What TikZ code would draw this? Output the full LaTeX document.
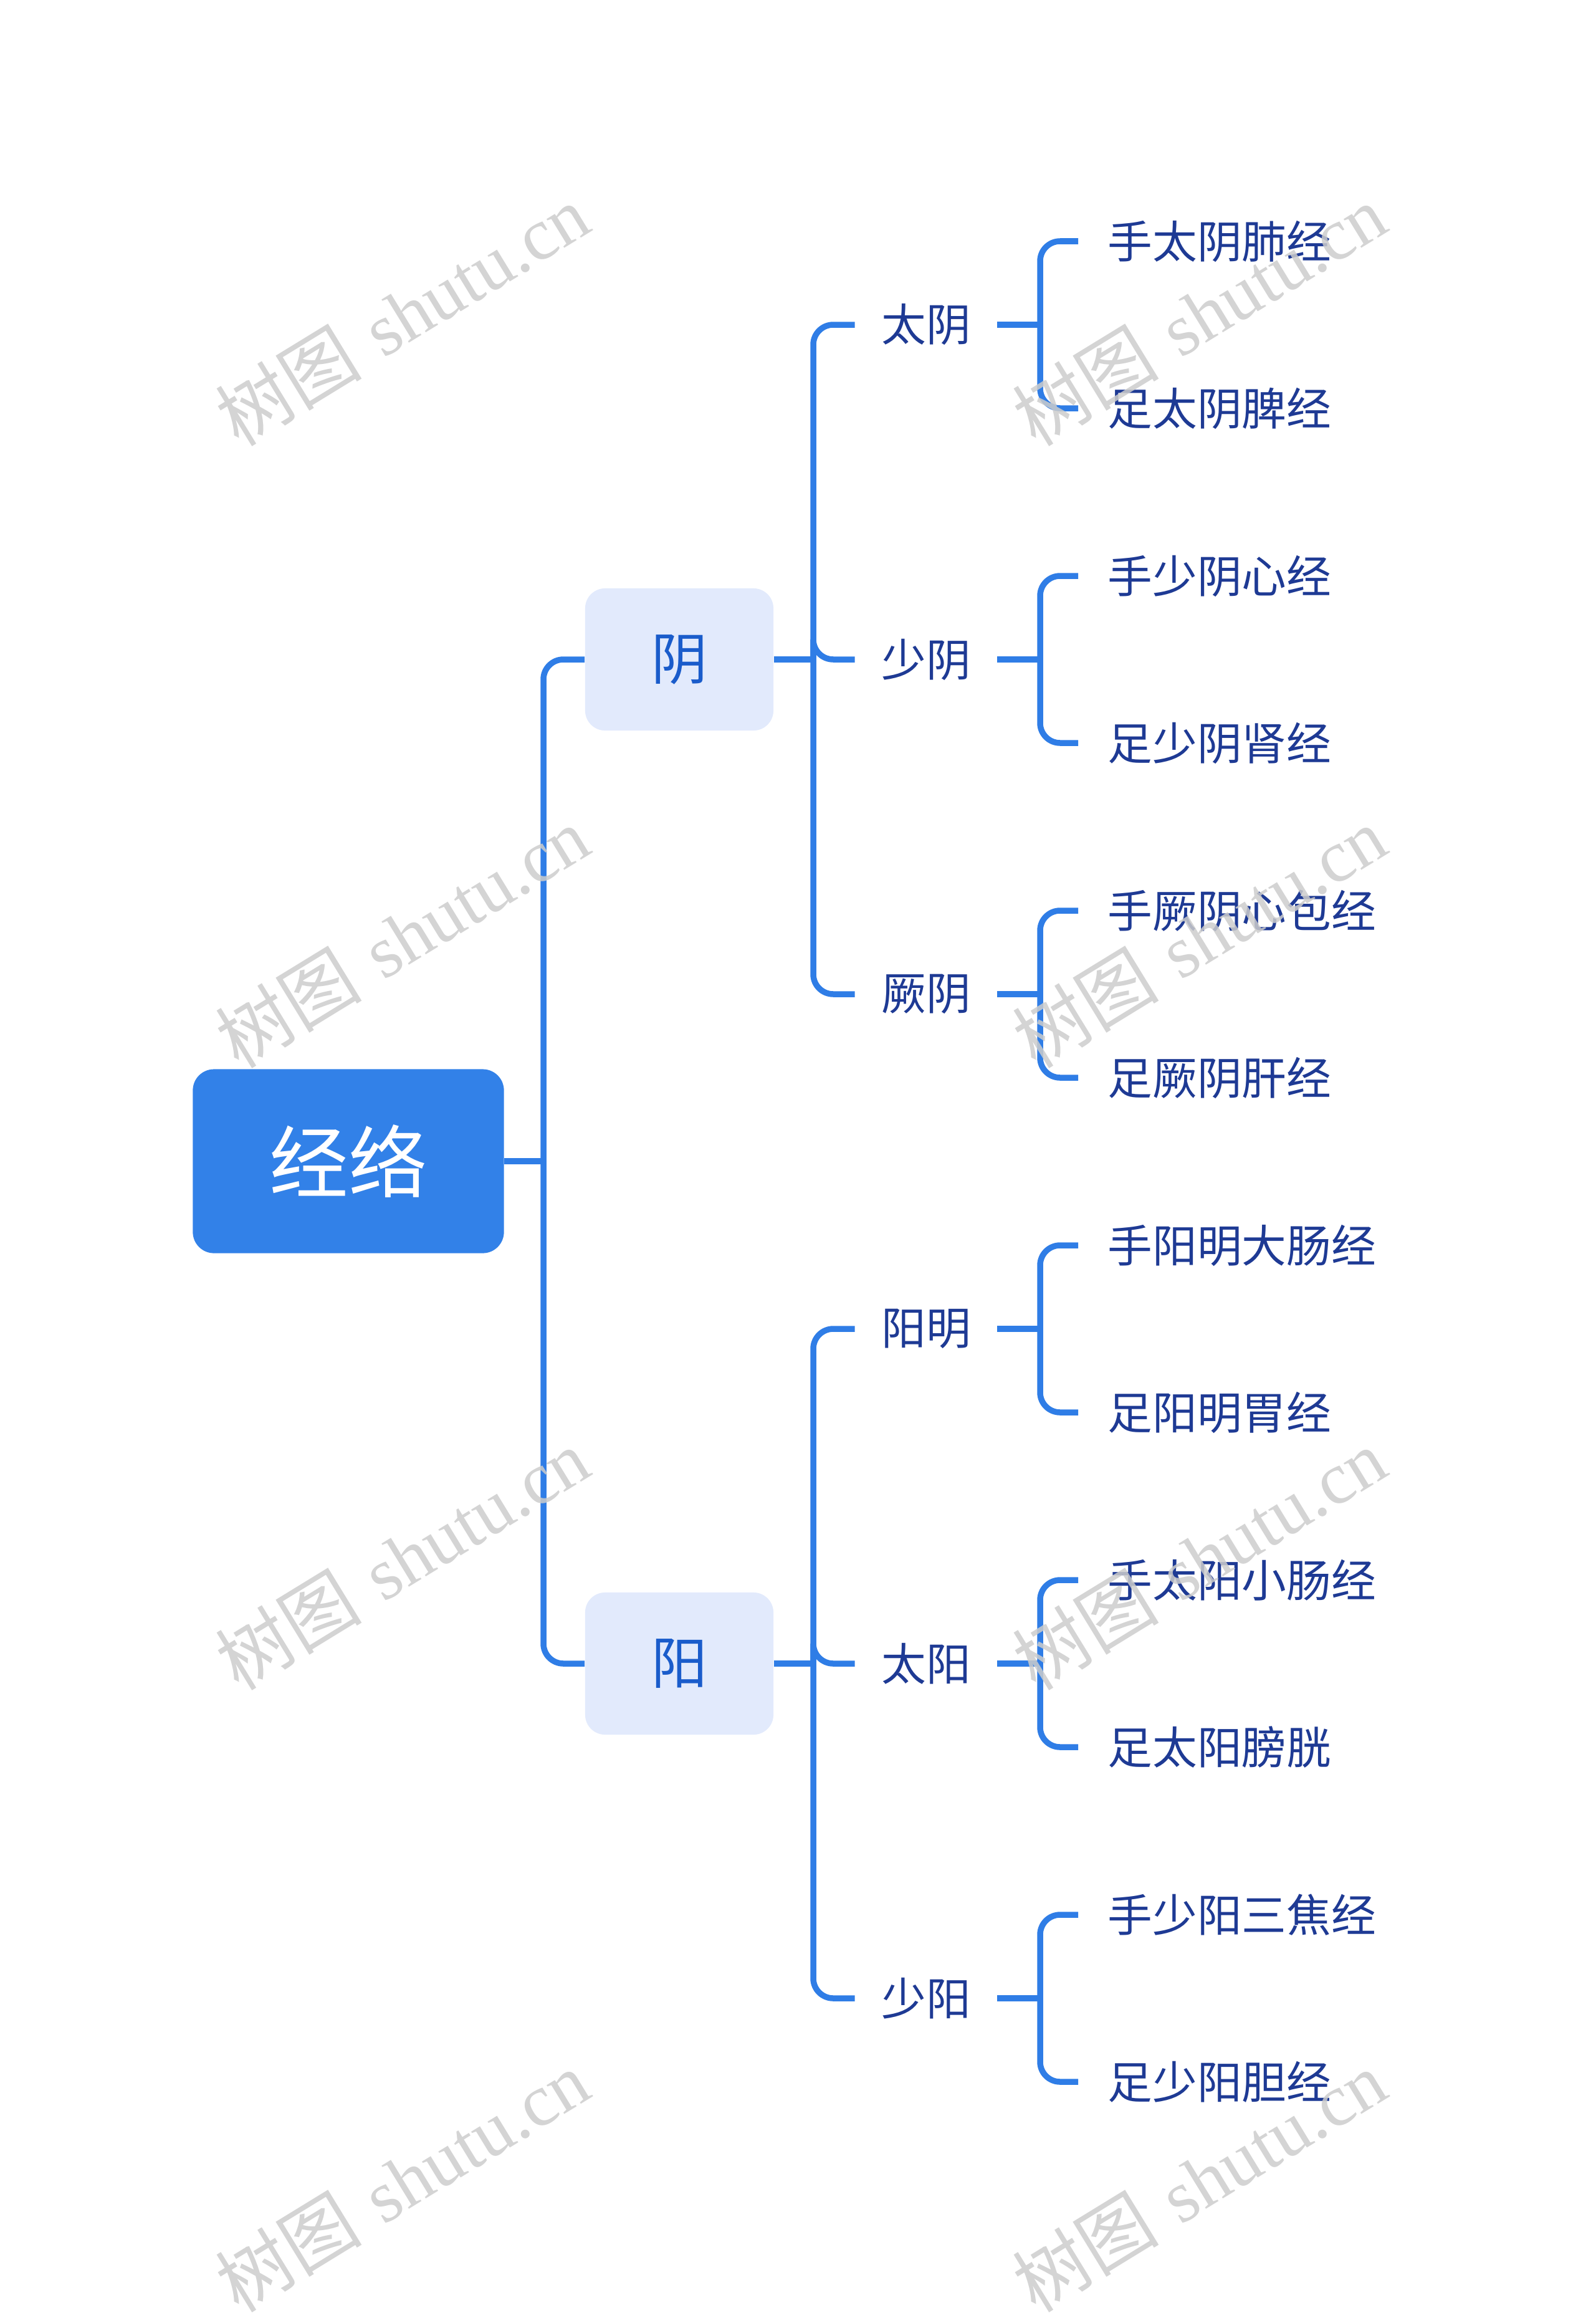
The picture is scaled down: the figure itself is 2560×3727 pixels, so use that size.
\documentclass[tikz,border=0pt]{standalone}
\usepackage{fontspec}
\newfontfamily\cjk{Noto Sans CJK SC}
\newfontfamily\wmlatin{Liberation Serif}
\definecolor{lineblue}{HTML}{2F7DE6}
\definecolor{rootblue}{HTML}{3281E8}
\definecolor{lightbox}{HTML}{E2EAFC}
\definecolor{yintext}{HTML}{1A5CCB}
\definecolor{navy}{HTML}{1E3A94}
\definecolor{wmgray}{HTML}{CCCCCC}
\begin{document}
\begin{tikzpicture}[x=0.01cm,y=-0.01cm,
  conn/.style={draw=lineblue, line width=0.095cm, rounded corners=0.32cm},
  rootbox/.style={fill=rootblue, rounded corners=0.34cm, minimum width=4.99cm, minimum height=2.95cm, inner sep=0, text=white, font=\cjk\fontsize{36}{36}\selectfont},
  lvone/.style={fill=lightbox, rounded corners=0.32cm, minimum width=3.02cm, minimum height=2.28cm, inner sep=0, text=yintext, font=\cjk\fontsize{25.6}{26}\selectfont},
  lvtwo/.style={text=navy, font=\cjk\fontsize{20.4}{21}\selectfont, inner xsep=0.42cm, inner ysep=0},
  leaf/.style={anchor=west, text=navy, font=\cjk\fontsize{20.4}{21}\selectfont, inner xsep=0.47cm, inner ysep=0},
  wm/.style={text=wmgray, opacity=0.85, rotate=31.5, inner sep=0, font=\fontsize{33.6}{34}\selectfont}
]
\useasboundingbox (0,0) rectangle (2560,3727);

% nodes
\node[rootbox] (root) at (559,1863) {经络};
\node[lvone] (yin) at (1090,1058) {阴};
\node[lvone] (yang) at (1090,2669) {阳};

\node[lvtwo] (taiyin) at (1486,521) {太阴};
\node[lvtwo] (shaoyin) at (1486,1058) {少阴};
\node[lvtwo] (jueyin) at (1486,1595) {厥阴};
\node[lvtwo] (yangming) at (1486,2132) {阳明};
\node[lvtwo] (taiyang) at (1486,2669) {太阳};
\node[lvtwo] (shaoyang) at (1486,3206) {少阳};

\node[leaf] (l1) at (1730,387) {手太阴肺经};
\node[leaf] (l2) at (1730,655) {足太阴脾经};
\node[leaf] (l3) at (1730,924) {手少阴心经};
\node[leaf] (l4) at (1730,1192) {足少阴肾经};
\node[leaf] (l5) at (1730,1461) {手厥阴心包经};
\node[leaf] (l6) at (1730,1729) {足厥阴肝经};
\node[leaf] (l7) at (1730,1998) {手阳明大肠经};
\node[leaf] (l8) at (1730,2266) {足阳明胃经};
\node[leaf] (l9) at (1730,2535) {手太阳小肠经};
\node[leaf] (l10) at (1730,2803) {足太阳膀胱};
\node[leaf] (l11) at (1730,3072) {手少阳三焦经};
\node[leaf] (l12) at (1730,3340) {足少阳胆经};

% junction coordinates
\coordinate (s1) at (872,1863);
\coordinate (s2a) at (1305,1058);
\coordinate (s2b) at (1305,2669);
\coordinate (t1) at (1669,521);
\coordinate (t2) at (1669,1058);
\coordinate (t3) at (1669,1595);
\coordinate (t4) at (1669,2132);
\coordinate (t5) at (1669,2669);
\coordinate (t6) at (1669,3206);

% connectors
\draw[conn] (root.east) -- (s1);
\draw[conn] (s1) |- (yin.west);
\draw[conn] (s1) |- (yang.west);

\draw[conn] (yin.east) -- (s2a);
\draw[conn] (s2a) |- (taiyin.west);
\draw[conn] (s2a) |- (shaoyin.west);
\draw[conn] (s2a) |- (jueyin.west);

\draw[conn] (yang.east) -- (s2b);
\draw[conn] (s2b) |- (yangming.west);
\draw[conn] (s2b) |- (taiyang.west);
\draw[conn] (s2b) |- (shaoyang.west);

\draw[conn] (taiyin.east) -- (t1);
\draw[conn] (t1) |- (l1.west);
\draw[conn] (t1) |- (l2.west);
\draw[conn] (shaoyin.east) -- (t2);
\draw[conn] (t2) |- (l3.west);
\draw[conn] (t2) |- (l4.west);
\draw[conn] (jueyin.east) -- (t3);
\draw[conn] (t3) |- (l5.west);
\draw[conn] (t3) |- (l6.west);
\draw[conn] (yangming.east) -- (t4);
\draw[conn] (t4) |- (l7.west);
\draw[conn] (t4) |- (l8.west);
\draw[conn] (taiyang.east) -- (t5);
\draw[conn] (t5) |- (l9.west);
\draw[conn] (t5) |- (l10.west);
\draw[conn] (shaoyang.east) -- (t6);
\draw[conn] (t6) |- (l11.west);
\draw[conn] (t6) |- (l12.west);

% watermarks
\node[wm] (wm1) at (645,505) {{\cjk 树图} {\wmlatin shutu.cn}};
\node[wm] (wm2) at (645,1503) {{\cjk 树图} {\wmlatin shutu.cn}};
\node[wm] (wm3) at (645,2501) {{\cjk 树图} {\wmlatin shutu.cn}};
\node[wm] (wm4) at (645,3499) {{\cjk 树图} {\wmlatin shutu.cn}};
\node[wm] (wm5) at (1924,505) {{\cjk 树图} {\wmlatin shutu.cn}};
\node[wm] (wm6) at (1924,1503) {{\cjk 树图} {\wmlatin shutu.cn}};
\node[wm] (wm7) at (1924,2501) {{\cjk 树图} {\wmlatin shutu.cn}};
\node[wm] (wm8) at (1924,3499) {{\cjk 树图} {\wmlatin shutu.cn}};
\end{tikzpicture}
\end{document}
